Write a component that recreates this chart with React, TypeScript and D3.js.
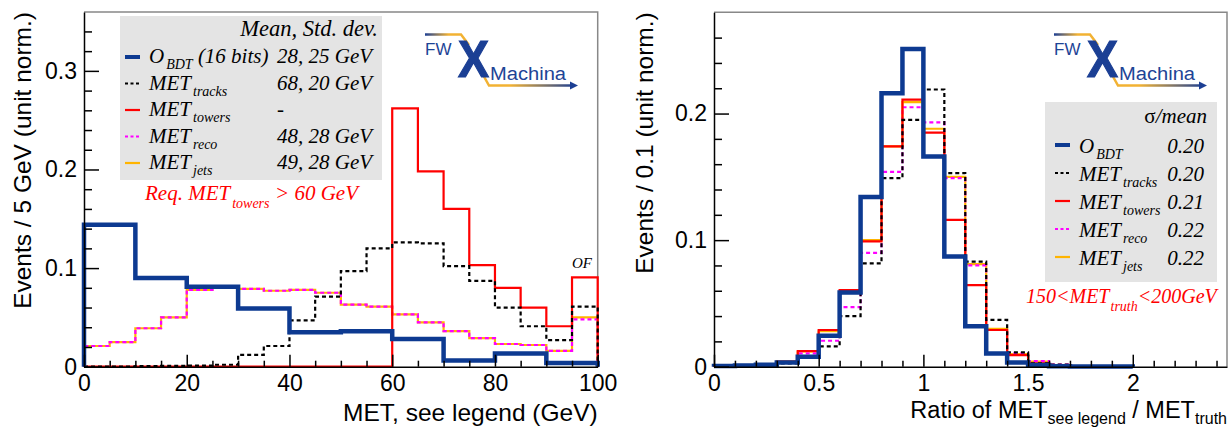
import { useEffect, useRef } from 'react';
import * as d3 from 'd3';

// ---- left panel: MET (GeV), 5 GeV bins ----
const metEdges = [0, 5, 10, 15, 20, 25, 30, 35, 40, 45, 50, 55, 60, 65, 70, 75, 80, 85, 90, 95, 100];
const metBdt = [0.144, 0.144, 0.090, 0.090, 0.081, 0.081, 0.059, 0.059, 0.035, 0.035, 0.036, 0.036, 0.028, 0.028, 0.0064, 0.0064, 0.0135, 0.0135, 0.0037, 0.0037];
const metTracks = [0, 0, 0.0005, 0.0008, 0.001, 0.002, 0.012, 0.021, 0.047, 0.071, 0.097, 0.120, 0.126, 0.125, 0.102, 0.087, 0.060, 0.041, 0.027, 0.061];
const metTowers = [0, 0, 0, 0, 0, 0, 0, 0, 0, 0, 0, 0, 0.262, 0.198, 0.160, 0.103, 0.080, 0.060, 0.041, 0.0906];
const metReco = [0.021, 0.025, 0.039, 0.050, 0.078, 0.080, 0.079, 0.077, 0.078, 0.075, 0.063, 0.061, 0.053, 0.045, 0.036, 0.029, 0.023, 0.022, 0.016, 0.048];
const metJets = [0.021, 0.025, 0.039, 0.050, 0.078, 0.080, 0.079, 0.077, 0.078, 0.075, 0.063, 0.061, 0.053, 0.045, 0.036, 0.029, 0.023, 0.022, 0.016, 0.050];
const metTicks = [0, 20, 40, 60, 80, 100];
const metMinor = [5, 10, 15, 25, 30, 35, 45, 50, 55, 65, 70, 75, 85, 90, 95];
const metYTicks = [0, 0.1, 0.2, 0.3];
const metYMinor = [0.02, 0.04, 0.06, 0.08, 0.12, 0.14, 0.16, 0.18, 0.22, 0.24, 0.26, 0.28, 0.32, 0.34];

// ---- right panel: ratio to truth, 0.1 bins ----
const ratioEdges = [0, 0.1, 0.2, 0.3, 0.4, 0.5, 0.6, 0.7, 0.8, 0.9, 1.0, 1.1, 1.2, 1.3, 1.4, 1.5, 1.6, 1.7, 1.8, 1.9, 2.0];
const ratioBdt = [0.0005, 0.001, 0.0016, 0.0034, 0.0079, 0.0245, 0.0587, 0.134, 0.216, 0.251, 0.166, 0.087, 0.032, 0.0105, 0.0034, 0.0013, 0.0003, 0.0002, 0.0001, 0.0001];
const ratioTracks = [0, 0.0005, 0.001, 0.0026, 0.007, 0.016, 0.040, 0.0816, 0.149, 0.195, 0.219, 0.153, 0.083, 0.037, 0.0113, 0.0026, 0.0016, 0.0005, 0.0002, 0.0001];
const ratioTowers = [0.001, 0.001, 0.002, 0.004, 0.0124, 0.029, 0.0605, 0.099, 0.174, 0.211, 0.185, 0.116, 0.0645, 0.029, 0.0092, 0.0026, 0.0008, 0.0003, 0.0001, 0];
const ratioReco = [0.0005, 0.0005, 0.0015, 0.003, 0.0105, 0.0205, 0.047, 0.090, 0.154, 0.205, 0.193, 0.149, 0.080, 0.029, 0.0105, 0.0045, 0.0016, 0.0005, 0.0002, 0];
const ratioJets = [0.001, 0.001, 0.002, 0.004, 0.0118, 0.028, 0.059, 0.100, 0.174, 0.209, 0.188, 0.150, 0.081, 0.030, 0.010, 0.004, 0.0012, 0.0004, 0.0001, 0];
const ratioTicks = [0, 0.5, 1, 1.5, 2];
const ratioMinor = [0.1, 0.2, 0.3, 0.4, 0.6, 0.7, 0.8, 0.9, 1.1, 1.2, 1.3, 1.4, 1.6, 1.7, 1.8, 1.9, 2.1, 2.2, 2.3, 2.4];
const ratioYTicks = [0, 0.1, 0.2];
const ratioYMinor = [0.02, 0.04, 0.06, 0.08, 0.12, 0.14, 0.16, 0.18, 0.22, 0.24, 0.26];

const leftValues = ['28, 25 GeV', '68, 20 GeV', '-', '48, 28 GeV', '49, 28 GeV'];
const rightValues = ['0.20', '0.20', '0.21', '0.22', '0.22'];

const SANS = '"Liberation Sans", Arial, Helvetica, sans-serif';
const SERIF = '"Liberation Serif", "Times New Roman", serif';

const styles = {
  bdt: { color: '#0d3a91', width: 4.5, dash: undefined as string | undefined },
  tracks: { color: '#000000', width: 2.2, dash: '4 3' },
  towers: { color: '#ff0000', width: 2.2, dash: undefined },
  reco: { color: '#ff00ff', width: 2.2, dash: '4 3' },
  jets: { color: '#ffb400', width: 2.2, dash: undefined },
};
const legendOrder: (keyof typeof styles)[] = ['bdt', 'tracks', 'towers', 'reco', 'jets'];
const legendNames: Record<string, [string, string]> = {
  bdt: ['O', 'BDT'], tracks: ['MET', 'tracks'], towers: ['MET', 'towers'], reco: ['MET', 'reco'], jets: ['MET', 'jets'],
};

const histPath = (edges: number[], vals: number[], x: d3.ScaleLinear<number, number>, y: d3.ScaleLinear<number, number>) => {
  const pts: [number, number][] = [[edges[0], 0]];
  vals.forEach((v, i) => { pts.push([edges[i], v]); pts.push([edges[i + 1], v]); });
  pts.push([edges[edges.length - 1], 0]);
  return d3.line<[number, number]>().x(d => x(d[0])).y(d => y(d[1]))(pts) || '';
};

const drawAxes = (node: SVGGElement, x: d3.ScaleLinear<number, number>, y: d3.ScaleLinear<number, number>,
  xt: number[], xm: number[], yt: number[], ym: number[]) => {
  const g = d3.select(node);
  g.selectAll('*').remove();
  const y0 = y.range()[0];
  const x0 = x.range()[0];
  const xa = g.append('g').attr('transform', `translate(0,${y0})`)
    .call(d3.axisBottom(x).tickValues(xt).tickSizeInner(-12).tickSizeOuter(0).tickPadding(8).tickFormat(d => String(d)));
  g.append('g').attr('transform', `translate(0,${y0})`)
    .call(d3.axisBottom(x).tickValues(xm).tickSizeInner(-6).tickSizeOuter(0).tickFormat(() => ''))
    .select('.domain').remove();
  const ya = g.append('g').attr('transform', `translate(${x0},0)`)
    .call(d3.axisLeft(y).tickValues(yt).tickSizeInner(-15).tickSizeOuter(0).tickPadding(7).tickFormat(d => String(d)));
  g.append('g').attr('transform', `translate(${x0},0)`)
    .call(d3.axisLeft(y).tickValues(ym).tickSizeInner(-8).tickSizeOuter(0).tickFormat(() => ''))
    .select('.domain').remove();
  [xa, ya].forEach(a => a.attr('font-size', 23).attr('font-family', SANS));
  g.selectAll('line,path').attr('stroke', '#000').attr('stroke-width', 1.5);
};

const Logo = ({ dx, id }: { dx: number; id: string }) => (
  <g transform={`translate(${dx},0)`}>
    <defs>
      <linearGradient id={`top${id}`} gradientUnits="userSpaceOnUse" x1={425} y1={0} x2={468} y2={0}>
        <stop offset="0" stopColor="#1c3f94" />
        <stop offset="0.55" stopColor="#f2b233" />
        <stop offset="1" stopColor="#f2b233" />
      </linearGradient>
      <linearGradient id={`bot${id}`} gradientUnits="userSpaceOnUse" x1={482} y1={0} x2={575} y2={0}>
        <stop offset="0" stopColor="#f2b233" />
        <stop offset="0.3" stopColor="#f2b233" />
        <stop offset="1" stopColor="#1c3f94" />
      </linearGradient>
    </defs>
    <polyline points="425,34.5 461,34.5 469,45" fill="none" stroke={`url(#top${id})`} strokeWidth={2.5} />
    <polyline points="482,73 489,85.5 572,85.5" fill="none" stroke={`url(#bot${id})`} strokeWidth={2.5} />
    <polygon points="570,81.5 578,85.5 570,89.5" fill="#1c3f94" />
    <text x={425} y={55} fontFamily={SANS} fontSize={17} fill="#1e4496">FW</text>
    <text x={458} y={77} fontFamily={SANS} fontSize={51} fontWeight="bold" fill="#1b3f94" stroke="#1b3f94" strokeWidth={1.2}
      textLength={31} lengthAdjust="spacingAndGlyphs">X</text>
    <text x={490} y={80} fontFamily={SANS} fontSize={18} fill="#1e4496" textLength={76} lengthAdjust="spacingAndGlyphs">Machina</text>
  </g>
);

const App = () => {
  const leftAxes = useRef<SVGGElement>(null);
  const rightAxes = useRef<SVGGElement>(null);

  const xL = d3.scaleLinear().domain([0, 100]).range([84, 597.7]);
  const yL = d3.scaleLinear().domain([0, 0.3597]).range([366.7, 12]);
  const xR = d3.scaleLinear().domain([0, 2.45]).range([714, 1227]);
  const yR = d3.scaleLinear().domain([0, 0.28]).range([366.7, 12.3]);

  useEffect(() => {
    if (leftAxes.current) drawAxes(leftAxes.current, xL, yL, metTicks, metMinor, metYTicks, metYMinor);
    if (rightAxes.current) drawAxes(rightAxes.current, xR, yR, ratioTicks, ratioMinor, ratioYTicks, ratioYMinor);
  }, []);

  const leftSeries = { jets: metJets, reco: metReco, towers: metTowers, tracks: metTracks, bdt: metBdt };
  const rightSeries = { jets: ratioJets, reco: ratioReco, towers: ratioTowers, tracks: ratioTracks, bdt: ratioBdt };

  const drawOrder: (keyof typeof styles)[] = ['jets', 'reco', 'towers', 'tracks', 'bdt'];

  const frame = (x: d3.ScaleLinear<number, number>, y: d3.ScaleLinear<number, number>) => {
    const [xa, xb] = x.range();
    const [ya, yb] = y.range();
    return <polyline points={`${xa},${yb} ${xb},${yb} ${xb},${ya}`} fill="none" stroke="#888" strokeWidth={1.5} />;
  };

  return (
    <div style={{ position: 'absolute', left: 0, top: 0 }}>
      <svg width={1228} height={428} style={{ display: 'block', background: '#fff' }}>
        {/* ---------- left panel ---------- */}
        {frame(xL, yL)}
        <rect x={120} y={16} width={262} height={164} fill="#e4e4e4" />
        <Logo dx={0} id="L" />
        {drawOrder.map(k => (
          <path key={'l' + k} d={histPath(metEdges, leftSeries[k], xL, yL)} fill="none"
            stroke={styles[k].color} strokeWidth={styles[k].width} strokeDasharray={styles[k].dash} />
        ))}
        <g ref={leftAxes} />
        <text x={378} y={36} textAnchor="end" fontFamily={SERIF} fontStyle="italic" fontSize={22.5}>Mean, Std. dev.</text>
        {legendOrder.map((k, i) => {
          const yb = 63 + i * 26.5;
          const [main, sub] = legendNames[k];
          return (
            <g key={'ll' + k}>
              <line x1={125} x2={140} y1={yb - 6} y2={yb - 6} stroke={styles[k].color}
                strokeWidth={k === 'bdt' ? 4 : 2.2} strokeDasharray={styles[k].dash ? '3 2.5' : undefined} />
              <text x={149} y={yb} fontFamily={SERIF} fontStyle="italic" fontSize={21}>
                {main}
                <tspan dx={2} dy={6} fontSize={14}>{sub}</tspan>
                {k === 'bdt' && <tspan dy={-6}> (16 bits)</tspan>}
              </text>
              <text x={277} y={yb} fontFamily={SERIF} fontStyle="italic" fontSize={21}>{leftValues[i]}</text>
            </g>
          );
        })}
        <text x={145} y={200} fontFamily={SERIF} fontStyle="italic" fontSize={21} fill="#ff0000">
          Req. MET<tspan dx={2} dy={8} fontSize={14}>towers</tspan>
        </text>
        <text x={275} y={200} fontFamily={SERIF} fontStyle="italic" fontSize={21} fill="#ff0000">&gt; 60 GeV</text>
        <text x={572} y={268} fontFamily={SERIF} fontStyle="italic" fontSize={15}>OF</text>
        <text transform="translate(31,12) rotate(-90)" textAnchor="end" fontFamily={SANS} fontSize={24.5}>Events / 5 GeV (unit norm.)</text>
        <text x={597.7} y={421} textAnchor="end" fontFamily={SANS} fontSize={24.5}>MET, see legend (GeV)</text>

        {/* ---------- right panel ---------- */}
        {frame(xR, yR)}
        <Logo dx={629} id="R" />
        <rect x={1045} y={102} width={172} height={180} fill="#e4e4e4" />
        {drawOrder.map(k => (
          <path key={'r' + k} d={histPath(ratioEdges, rightSeries[k], xR, yR)} fill="none"
            stroke={styles[k].color} strokeWidth={styles[k].width} strokeDasharray={styles[k].dash} />
        ))}
        <g ref={rightAxes} />
        <text x={1207} y={123} textAnchor="end" fontFamily={SERIF} fontSize={21}>
          σ<tspan fontStyle="italic">/mean</tspan>
        </text>
        {legendOrder.map((k, i) => {
          const yb = 153 + i * 28;
          const [main, sub] = legendNames[k];
          return (
            <g key={'rl' + k}>
              <line x1={1055} x2={1070} y1={yb - 8} y2={yb - 8} stroke={styles[k].color}
                strokeWidth={k === 'bdt' ? 4 : 2.2} strokeDasharray={styles[k].dash ? '3 2.5' : undefined} />
              <text x={1079} y={yb} fontFamily={SERIF} fontStyle="italic" fontSize={21}>
                {main}
                <tspan dx={2} dy={6} fontSize={14}>{sub}</tspan>
              </text>
              <text x={1204} y={yb} textAnchor="end" fontFamily={SERIF} fontStyle="italic" fontSize={21}>{rightValues[i]}</text>
            </g>
          );
        })}
        <text x={1026} y={303} fontFamily={SERIF} fontStyle="italic" fontSize={20} fill="#ff0000">
          150&lt;MET<tspan dx={1} dy={8} fontSize={14}>truth</tspan><tspan dy={-8}>&lt;200GeV</tspan>
        </text>
        <text transform="translate(653,12.3) rotate(-90)" textAnchor="end" fontFamily={SANS} fontSize={24.5}>Events / 0.1 (unit norm.)</text>
        <text x={1227} y={418} textAnchor="end" fontFamily={SANS} fontSize={23.5}>
          Ratio of MET<tspan dy={6} fontSize={16}>see legend</tspan><tspan dy={-6}> / MET</tspan><tspan dy={6} fontSize={16}>truth</tspan>
        </text>
      </svg>
    </div>
  );
};

export default App;
